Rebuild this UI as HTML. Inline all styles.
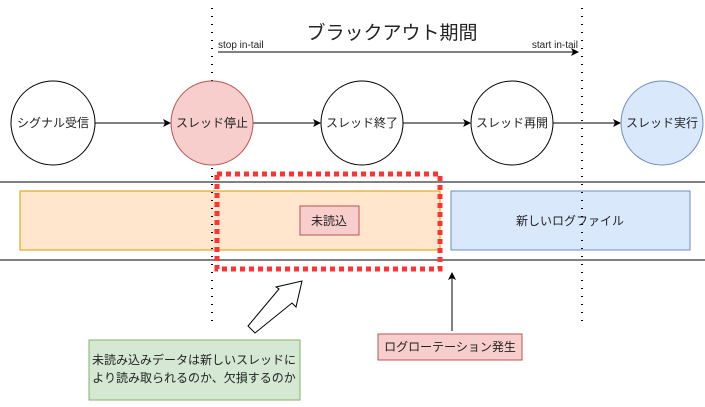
<!DOCTYPE html>
<html><head><meta charset="utf-8"><style>
body{margin:0;background:#fff;width:705px;height:402px;overflow:hidden}
text{font-family:"Liberation Sans","Noto Sans CJK JP",sans-serif;fill:#222}
</style></head><body>
<svg width="705" height="402" viewBox="0 0 705 402" xmlns="http://www.w3.org/2000/svg">
<defs><marker id="a" markerWidth="8" markerHeight="8" refX="7" refY="4" orient="auto" markerUnits="userSpaceOnUse"><path d="M0,0 L8,4 L0,8 L2,4 z" fill="#000"/></marker></defs>
<rect x="20" y="191" width="420" height="59" fill="#ffe6cc" stroke="#d79b00"/>
<rect x="451" y="191" width="239" height="59" fill="#dae8fc" stroke="#6c8ebf"/>
<text x="570" y="225" font-size="12" text-anchor="middle">新しいログファイル</text>
<rect x="300" y="206" width="59" height="29" fill="#f8cecc" stroke="#b85450"/>
<text x="329" y="225" font-size="12" text-anchor="middle">未読込</text>
<line x1="0" y1="182" x2="705" y2="182" stroke="#000"/>
<line x1="0" y1="260" x2="705" y2="260" stroke="#000"/>
<line x1="212" y1="8" x2="212" y2="322" stroke="#000" stroke-width="2" stroke-dasharray="1 7"/>
<line x1="582" y1="8" x2="582" y2="322" stroke="#000" stroke-width="2" stroke-dasharray="1 7"/>
<rect x="217" y="174" width="223" height="95" fill="none" stroke="#ff3333" stroke-width="5" stroke-dasharray="5 4"/>
<text x="392" y="39" font-size="19" text-anchor="middle">ブラックアウト期間</text>
<text x="218" y="48" font-size="10">stop in-tail</text>
<text x="578" y="48" font-size="10" text-anchor="end">start in-tail</text>
<line x1="218" y1="52" x2="578" y2="52" stroke="#000" marker-end="url(#a)"/>
<g stroke="#000" marker-end="url(#a)">
<line x1="95" y1="123" x2="170" y2="123"/>
<line x1="252" y1="123" x2="320" y2="123"/>
<line x1="402" y1="123" x2="470" y2="123"/>
<line x1="552" y1="123" x2="620" y2="123"/>
</g>
<ellipse cx="53" cy="123" rx="42" ry="42" fill="#fff" stroke="#000"/>
<ellipse cx="212" cy="123" rx="41" ry="42" fill="#f8cecc" stroke="#b85450"/>
<ellipse cx="362" cy="123" rx="41" ry="42" fill="#fff" stroke="#000"/>
<ellipse cx="512" cy="123" rx="41" ry="42" fill="#fff" stroke="#000"/>
<ellipse cx="662" cy="123" rx="41" ry="42" fill="#dae8fc" stroke="#6c8ebf"/>
<g font-size="12" text-anchor="middle">
<text x="53" y="127">シグナル受信</text>
<text x="212" y="127">スレッド停止</text>
<text x="362" y="127">スレッド終了</text>
<text x="512" y="127">スレッド再開</text>
<text x="662" y="127">スレッド実行</text>
</g>
<path d="M248,326 L279,289 L276,287 L302,281 L296,307 L292,303 L255,333 z" fill="#fff" stroke="#000"/>
<line x1="452" y1="331" x2="452" y2="273" stroke="#000" marker-end="url(#a)"/>
<rect x="378" y="334" width="144" height="26" fill="#f8cecc" stroke="#b85450"/>
<text x="450" y="351" font-size="12" text-anchor="middle">ログローテーション発生</text>
<rect x="89" y="340" width="211" height="60" fill="#d5e8d4" stroke="#82b366"/>
<text x="194" y="364" font-size="12" text-anchor="middle">未読み込みデータは新しいスレッドに</text>
<text x="194" y="382" font-size="12" text-anchor="middle">より読み取られるのか、欠損するのか</text>
</svg>
</body></html>
